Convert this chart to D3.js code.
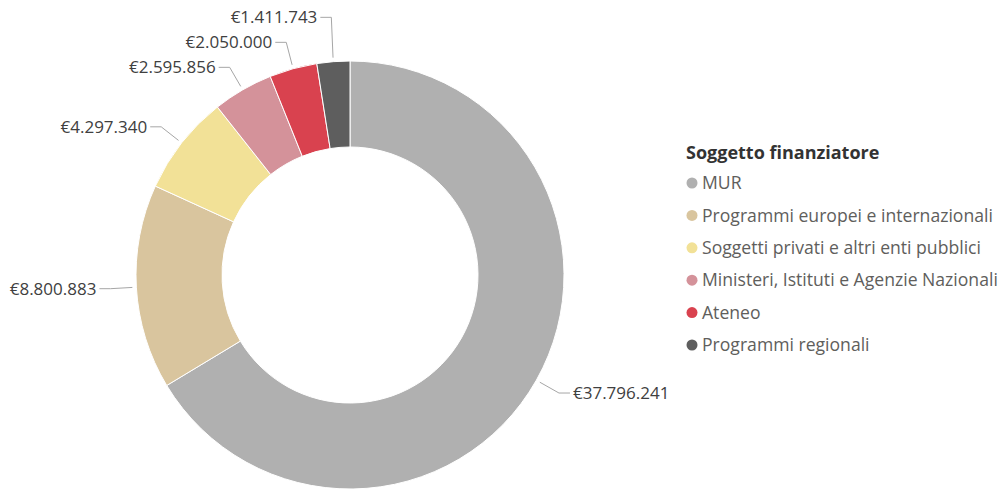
<!DOCTYPE html>
<html>
<head>
<meta charset="utf-8">
<script src="https://cdn.jsdelivr.net/npm/d3@7"></script>
<style>
  html, body { margin: 0; padding: 0; background: #fff; }
  svg text { font-family: "Open Sans", "Noto Sans", sans-serif; }
</style>
</head>
<body>
<svg id="chart" width="1006" height="490"></svg>
<script>
const categories = [
  "MUR",
  "Programmi europei e internazionali",
  "Soggetti privati e altri enti pubblici",
  "Ministeri, Istituti e Agenzie Nazionali",
  "Ateneo",
  "Programmi regionali"
];
const values = [37796241, 8800883, 4297340, 2595856, 2050000, 1411743];
const colors = ["#B0B0B0", "#D9C59E", "#F2E197", "#D4929A", "#D9424F", "#5E5E5E"];
const legendTitle = "Soggetto finanziatore";

const svg = d3.select("#chart");
const cx = 350, cy = 275, outerR = 214, innerR = 128;

const data = categories.map((c, i) => ({ cat: c, value: values[i], color: colors[i] }));

const pie = d3.pie().sort(null).value(d => d.value);
const arcs = pie(data);
const arc = d3.arc().innerRadius(innerR).outerRadius(outerR);

const g = svg.append("g").attr("transform", `translate(${cx},${cy})`);

g.selectAll("path.slice")
  .data(arcs)
  .enter().append("path")
  .attr("class", "slice")
  .attr("d", arc)
  .attr("fill", d => d.data.color)
  .attr("stroke", "#fff")
  .attr("stroke-width", 1);

// Labels with leader lines
const fmt = v => "€" + d3.format(",")(v).replace(/,/g, ".");
const startR = outerR + 4, elbowR = outerR + 26;
const labels = arcs.map(a => {
  const mid = (a.startAngle + a.endAngle) / 2;
  const sx = Math.sin(mid) * startR, sy = -Math.cos(mid) * startR;
  const ex = Math.sin(mid) * elbowR, ey = -Math.cos(mid) * elbowR;
  const right = Math.sin(mid) > 0;
  return { a, mid, sx, sy, ex, ey, ly: ey, right };
});

// simple collision avoidance
const left = labels.filter(l => !l.right).sort((p, q) => q.ey - p.ey);
const minGap = 25;
for (let i = 1; i < left.length; i++) {
  if (left[i].ly > left[i - 1].ly - minGap) left[i].ly = left[i - 1].ly - minGap;
}
const rightL = labels.filter(l => l.right).sort((p, q) => p.ey - q.ey);
for (let i = 1; i < rightL.length; i++) {
  if (rightL[i].ly < rightL[i - 1].ly + minGap) rightL[i].ly = rightL[i - 1].ly + minGap;
}

const hLen = 11, gap = 3;
labels.forEach(l => {
  const dir = l.right ? 1 : -1;
  const endX = l.ex + dir * hLen;
  g.append("polyline")
    .attr("points", [[l.sx, l.sy], [l.ex, l.ly], [endX, l.ly]].map(p => p.join(",")).join(" "))
    .attr("fill", "none")
    .attr("stroke", "#A6A6A6")
    .attr("stroke-width", 1);
  g.append("text")
    .attr("x", endX + dir * gap)
    .attr("y", l.ly)
    .attr("dy", "0.35em")
    .attr("text-anchor", l.right ? "start" : "end")
    .attr("font-size", 17)
    .attr("fill", "#404040")
    .text(fmt(l.a.data.value));
});

// Legend
const lg = svg.append("g").attr("transform", "translate(686,0)");
lg.append("text")
  .attr("x", 0).attr("y", 153).attr("dy", "0.35em")
  .attr("font-size", 18).attr("font-weight", "bold")
  .attr("fill", "#333333")
  .text(legendTitle);

const rowY = d3.scalePoint().domain(categories).range([183, 345]);
const items = lg.selectAll("g.item").data(data).enter().append("g")
  .attr("class", "item")
  .attr("transform", d => `translate(0,${rowY(d.cat)})`);
items.append("circle").attr("cx", 6).attr("cy", 0).attr("r", 5.5).attr("fill", d => d.color);
items.append("text")
  .attr("x", 16).attr("y", 0).attr("dy", "0.35em")
  .attr("font-size", 17.6)
  .attr("fill", "#605E5C")
  .text(d => d.cat);
</script>
</body>
</html>
